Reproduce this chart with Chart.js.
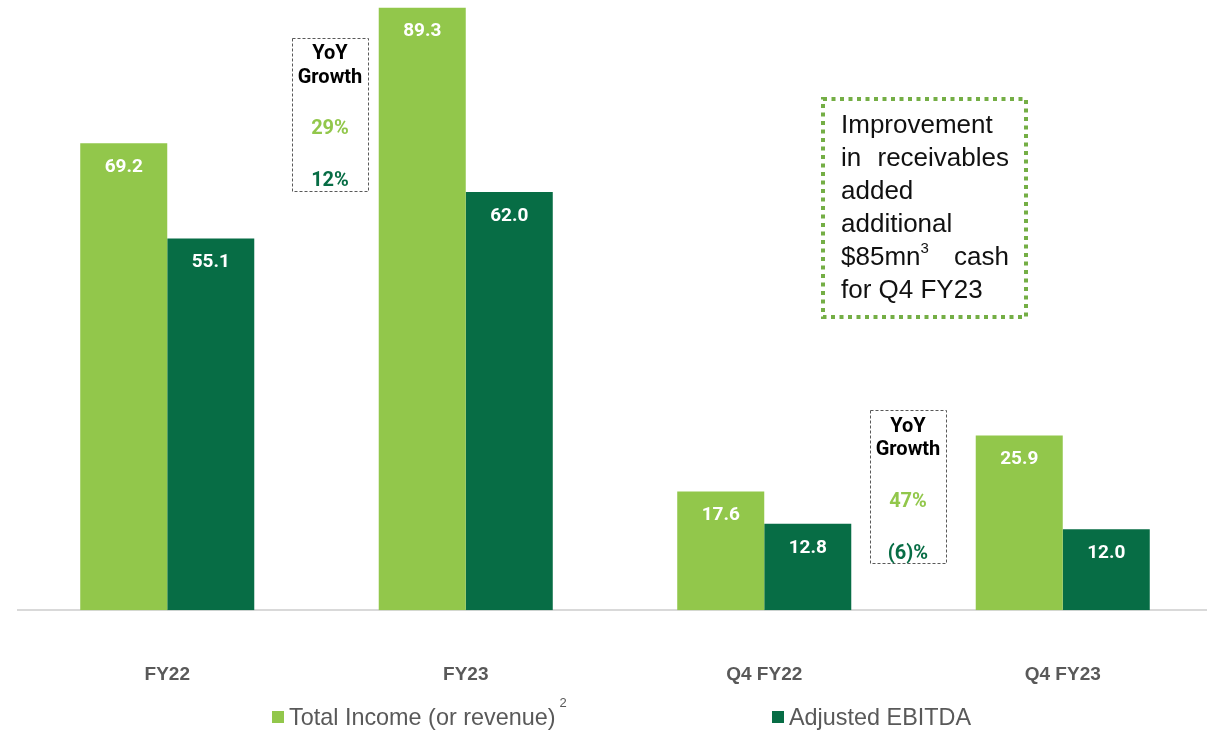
<!DOCTYPE html>
<html>
<head>
<meta charset="utf-8">
<script src="https://cdn.jsdelivr.net/npm/chart.js@4.4.0/dist/chart.umd.min.js"></script>
<style>
  html, body { margin: 0; padding: 0; background: #fff; overflow: hidden; }
  #wrap { position: relative; width: 1212px; height: 733px; overflow: hidden; }
  #cv { position: absolute; left: 0; top: 0; }
  .t { position: absolute; white-space: nowrap; }
  .yoy { font-family: Roboto, "Liberation Sans", sans-serif; font-weight: bold; font-size: 20px; line-height: 24px; width: 120px; text-align: center; transform: translate(-50%, -50%); }
  .leg { font-family: "Liberation Sans", Arial, sans-serif; font-size: 23.4px; color: #595959; line-height: 26px; }
  .sq { position: absolute; width: 12px; height: 12px; }
  #note { position: absolute; left: 841px; top: 108px; width: 168px; font-family: "Liberation Sans", Arial, sans-serif; font-size: 26px; line-height: 33px; color: #111; }
  #note div { text-align: justify; text-align-last: left; white-space: nowrap; }
  #note div.j { text-align-last: justify; white-space: normal; }
  sup { font-size: 60%; line-height: 0; }
</style>
</head>
<body>
<div id="wrap">
  <canvas id="cv" width="1212" height="753"></canvas>

  <div class="t yoy" style="left:330px; top:52px; color:#000;">YoY</div>
  <div class="t yoy" style="left:330px; top:76px; color:#000;">Growth</div>
  <div class="t yoy" id="g1a" style="left:330px; top:127px;"></div>
  <div class="t yoy" id="g1b" style="left:330px; top:179px;"></div>

  <div class="t yoy" style="left:908px; top:425px; color:#000;">YoY</div>
  <div class="t yoy" style="left:908px; top:448px; color:#000;">Growth</div>
  <div class="t yoy" id="g2a" style="left:908px; top:500px;"></div>
  <div class="t yoy" id="g2b" style="left:908px; top:552px;"></div>

  <div id="note">
    <div>Improvement</div>
    <div class="j">in receivables</div>
    <div>added</div>
    <div>additional</div>
    <div class="j">$85mn<sup style="font-size:15px;position:relative;top:-2px;">3</sup> cash</div>
    <div>for Q4 FY23</div>
  </div>

  <div class="sq" id="sq1" style="left:272px; top:711px;"></div>
  <div class="t leg" id="leg1" style="left:289px; top:704px;"></div>
  <div class="sq" id="sq2" style="left:772px; top:711px;"></div>
  <div class="t leg" id="leg2" style="left:789px; top:704px;"></div>
</div>
<script>
// ---- data ----
const categories = ["FY22", "FY23", "Q4 FY22", "Q4 FY23"];
const seriesNames = ["Total Income (or revenue)", "Adjusted EBITDA"];
const totalIncome = [69.2, 89.3, 17.6, 25.9];
const adjustedEbitda = [55.1, 62.0, 12.8, 12.0];
const yoyFullYear = ["29%", "12%"];
const yoyQuarter = ["47%", "(6)%"];

// ---- styles ----
const LIGHT = "#92C74B";
const DARK = "#076D45";

document.getElementById("g1a").textContent = yoyFullYear[0];
document.getElementById("g1a").style.color = LIGHT;
document.getElementById("g1b").textContent = yoyFullYear[1];
document.getElementById("g1b").style.color = DARK;
document.getElementById("g2a").textContent = yoyQuarter[0];
document.getElementById("g2a").style.color = LIGHT;
document.getElementById("g2b").textContent = yoyQuarter[1];
document.getElementById("g2b").style.color = DARK;
document.getElementById("sq1").style.background = LIGHT;
document.getElementById("sq2").style.background = DARK;
document.getElementById("leg1").innerHTML = seriesNames[0] + '<sup style="font-size:13px;position:relative;top:-9px;margin-left:4px;">2</sup>';
document.getElementById("leg2").textContent = seriesNames[1];

const valueLabels = {
  id: "valueLabels",
  afterDatasetsDraw(chart) {
    const ctx = chart.ctx;
    ctx.save();
    ctx.font = "bold 19px Roboto, 'Liberation Sans', sans-serif";
    ctx.fillStyle = "#ffffff";
    ctx.textAlign = "center";
    ctx.textBaseline = "middle";
    chart.data.datasets.forEach((ds, i) => {
      chart.getDatasetMeta(i).data.forEach((bar, j) => {
        ctx.fillText(ds.data[j].toFixed(1), bar.x, bar.y + 24);
      });
    });
    ctx.restore();
  }
};

const boxes = {
  id: "boxes",
  afterDraw(chart) {
    const ctx = chart.ctx;
    ctx.save();
    ctx.strokeStyle = "#595959";
    ctx.lineWidth = 1;
    ctx.setLineDash([3, 2]);
    ctx.strokeRect(292.5, 38.5, 76, 153);
    ctx.strokeRect(870.5, 410.5, 76, 153);
    ctx.strokeStyle = "#74AE45";
    ctx.lineWidth = 4;
    ctx.setLineDash([4, 4.5]);
    ctx.strokeRect(823, 99, 203, 218);
    ctx.restore();
  }
};

new Chart(document.getElementById("cv"), {
  type: "bar",
  data: {
    labels: categories,
    datasets: [
      { label: seriesNames[0], data: totalIncome, backgroundColor: LIGHT },
      { label: seriesNames[1], data: adjustedEbitda, backgroundColor: DARK }
    ]
  },
  options: {
    responsive: false,
    animation: false,
    categoryPercentage: 0.583,
    barPercentage: 1.0,
    layout: { padding: { left: 18, right: 0, top: 3, bottom: 14 } },
    plugins: { legend: { display: false }, tooltip: { enabled: false } },
    scales: {
      x: {
        grid: { display: false, drawTicks: false },
        border: { display: true, color: "#D9D9D9", width: 2 },
        ticks: {
          color: "#595959",
          padding: 53,
          font: { family: "'Liberation Sans', Arial, sans-serif", size: 19, weight: "bold" }
        }
      },
      y: { display: false, min: 0, max: 90 }
    }
  },
  plugins: [valueLabels, boxes]
});
</script>
</body>
</html>
